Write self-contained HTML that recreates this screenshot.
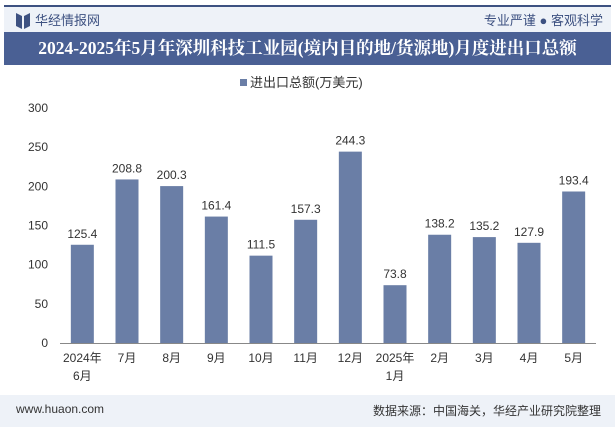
<!DOCTYPE html>
<html><head><meta charset="utf-8"><style>
body{margin:0;width:615px;height:427px;overflow:hidden;background:#fff;font-family:"Liberation Sans","Noto Sans CJK SC",sans-serif;position:relative}
.hdr{position:absolute;left:4px;top:5px;width:607px;height:27px;background:#eef2f8;border-top:2px solid #3d5181}
.title{position:absolute;left:4px;top:32px;width:607px;height:33px;background:#4a6094;color:#fff;font-weight:bold;font-size:17.5px;line-height:33px;text-align:center;font-family:"Liberation Serif","Noto Serif CJK SC",serif;white-space:nowrap}
.ftr{position:absolute;left:0;top:395px;width:615px;height:32px;background:#eef2f8}
</style></head><body>
<div class="hdr">
<svg style="position:absolute;left:12px;top:6px" width="14" height="16"><path d="M0 0L6 3V16L0 13Z M14 0L8 3V16L14 13Z" fill="#3d5181"/></svg>
<span style="position:absolute;left:31px;top:3px;font-size:13px;color:#3d5181">华经情报网</span>
<span style="position:absolute;right:8px;top:3px;font-size:13px;color:#3d5181">专业严谨 ● 客观科学</span>
</div>
<div class="title">2024-2025年5月年深圳科技工业园(境内目的地/货源地)月度进出口总额</div>
<div class="ftr">
<span style="position:absolute;left:16px;top:7px;font-size:12px;color:#333">www.huaon.com</span>
<span style="position:absolute;right:14px;top:7px;font-size:12px;color:#333">数据来源：中国海关，华经产业研究院整理</span>
</div>
<svg id="c" width="615" height="427" style="position:absolute;left:0;top:0"></svg>
<script>
const categories=["2024年|6月","7月","8月","9月","10月","11月","12月","2025年|1月","2月","3月","4月","5月"];
const values=[125.4,208.8,200.3,161.4,111.5,157.3,244.3,73.8,138.2,135.2,127.9,193.4];
const yTicks=[0,50,100,150,200,250,300];
const svg=document.getElementById('c');const NS='http://www.w3.org/2000/svg';
const x0=60,x1=596,y0=343,y1=108,band=(x1-x0)/categories.length;
const ys=v=>y0-(v/300)*(y0-y1);const xc=i=>x0+band*(i+0.5);
function mk(t,a,txt){const e=document.createElementNS(NS,t);for(const k in a)e.setAttribute(k,a[k]);if(txt!=null)e.textContent=txt;svg.appendChild(e);return e;}
let lg=mk('rect',{x:240,y:79,width:7,height:7,fill:'#6a7ea6'});

let lt=mk('text',{x:250,y:87,'font-size':13,fill:'#333'},'进出口总额(万美元)');

yTicks.forEach(t=>{const e=mk('text',{x:48,y:ys(t)+4,'font-size':12,fill:'#333','text-anchor':'end'},t);
});
let ax=mk('line',{x1:x0,x2:x1,y1:y0+0.5,y2:y0+0.5,stroke:'#888'});

values.forEach((v,i)=>{const w=23;
const r=mk('rect',{x:xc(i)-w/2,y:ys(v),width:w,height:y0-ys(v),fill:'#6a7ea6'});

const l=mk('text',{x:xc(i),y:ys(v)-7,'font-size':12,fill:'#333','text-anchor':'middle'},v.toFixed(1));

categories[i].split('|').forEach((s,j)=>{const c=mk('text',{x:xc(i),y:362+j*18,'font-size':12,fill:'#333','text-anchor':'middle'},s);
});});
</script>
</body></html>
